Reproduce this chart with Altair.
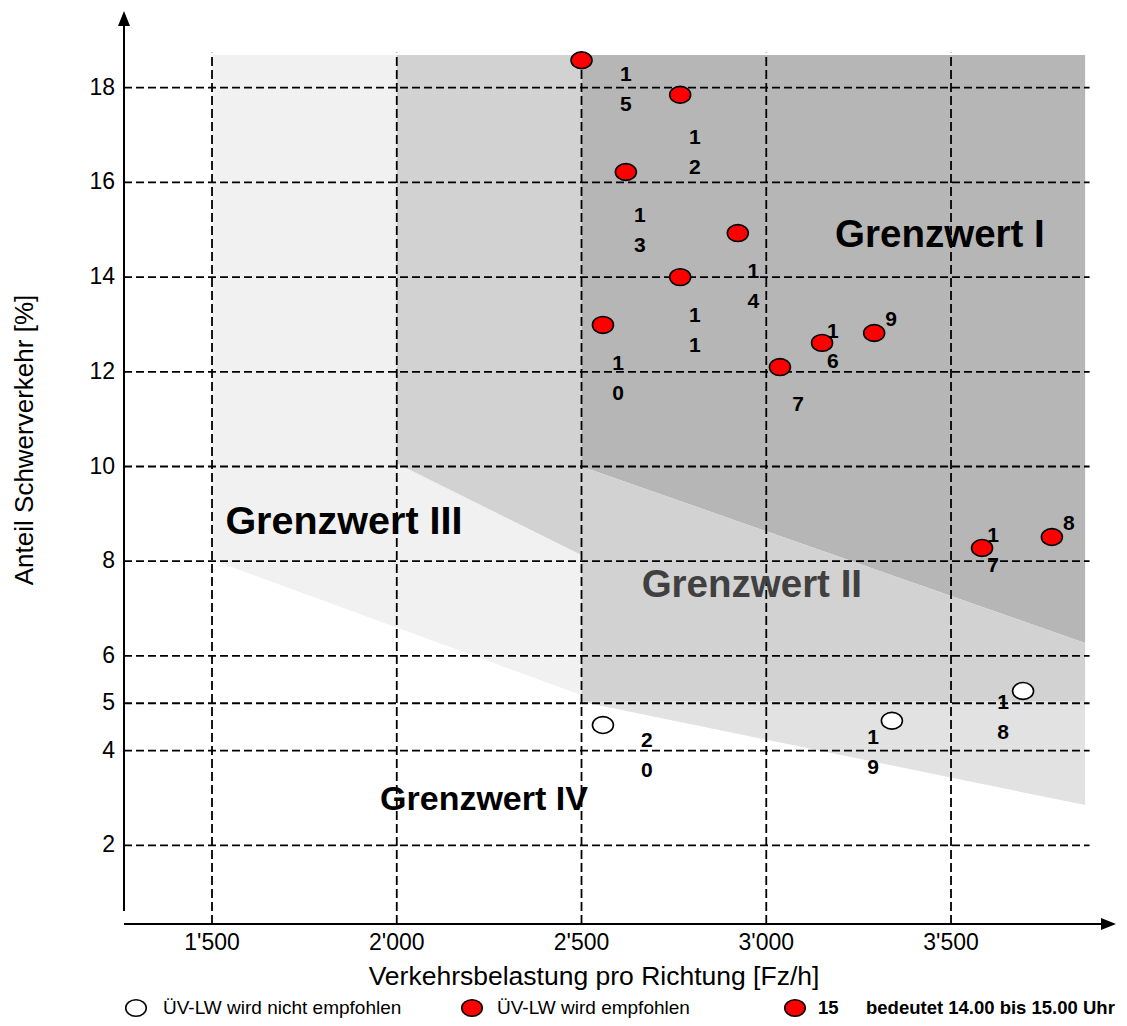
import altair as alt
import pandas as pd

# ---------------- data ----------------
x_ticks = [1500, 2000, 2500, 3000, 3500]
y_ticks = [2, 4, 5, 6, 8, 10, 12, 14, 16, 18]

# hours where the bypass (ÜV-LW) is recommended (red)
red_x = [2500, 2767, 2620, 2923, 2767, 2558, 3037, 3151, 3292, 3584, 3773]
red_y = [18.58, 17.85, 16.22, 14.93, 14.00, 12.99, 12.10, 12.61, 12.82, 8.28, 8.51]
red_hour = ["15", "12", "13", "14", "11", "10", "7", "16", "9", "17", "8"]
red_lab_x = [2620, 2807, 2658, 2965, 2807, 2599, 3086, 3180, 3338, 3614, 3819]
red_lab_y = [18.27, 16.94, 15.29, 14.11, 13.18, 12.16, 11.30, 12.84, 13.09, 8.53, 8.79]

# hours where it is not recommended (white)
white_x = [2558, 3340, 3695]
white_y = [4.54, 4.63, 5.26]
white_hour = ["20", "19", "18"]
white_lab_x = [2677, 3289, 3641]
white_lab_y = [4.20, 4.27, 5.01]

# limit-value zones: x extent with lower / upper boundary
zone_names = ["III", "II_upper", "I", "II", "II_lower"]
zone_x = [[1500, 2500], [2000, 2500], [2500, 3863], [2500, 3863], [2500, 3863]]
zone_low = [[8.03, 5.17], [10.07, 8.13], [10.0, 6.27], [5.03, 5.03], [5.03, 2.85]]
zone_high = [[18.69, 18.69], [18.69, 18.69], [18.69, 18.69], [10.0, 6.27], [5.03, 5.03]]

gw_text = ["Grenzwert I", "Grenzwert II", "Grenzwert III", "Grenzwert IV"]
gw_x = [3470, 2961, 1857, 2236]
gw_y = [14.89, 7.50, 8.83, 2.96]

grid_x_end = 3875
grid_y_top = 18.74

x_title = "Verkehrsbelastung pro Richtung [Fz/h]"
y_title = "Anteil Schwerverkehr [%]"
legend_labels = ["ÜV-LW wird nicht empfohlen", "ÜV-LW wird empfohlen", "15",
                 "bedeutet 14.00 bis 15.00 Uhr"]

# ---------------- chart ----------------
FONT = "Liberation Sans"
xs = alt.Scale(domain=[1261.8, 3946.5], nice=False, zero=False)
ys = alt.Scale(domain=[0.338, 19.62], nice=False, zero=False)

ELLIPSE = ("M -1 0 C -1 -0.44 -0.552 -0.8 0 -0.8 C 0.552 -0.8 1 -0.44 1 0 "
           "C 1 0.44 0.552 0.8 0 0.8 C -0.552 0.8 -1 0.44 -1 0 Z")

one = pd.DataFrame({"a": [0]})

zone_fill = {"III": "#f1f1f1", "II_upper": "#d2d2d2", "I": "#b6b6b6",
             "II": "#d2d2d2", "II_lower": "#e2e2e2"}

layers = []
for name, zx, zl, zh in zip(zone_names, zone_x, zone_low, zone_high):
    df = pd.DataFrame({"x": zx, "lo": zl, "hi": zh})
    layers.append(
        alt.Chart(df).mark_area(color=zone_fill[name], opacity=1, interpolate="linear").encode(
            x=alt.X("x:Q", scale=xs, axis=None),
            y=alt.Y("lo:Q", scale=ys, axis=None),
            y2="hi:Q",
        )
    )

# horizontal grid lines
hgrid = pd.DataFrame({"y": y_ticks, "x0": [xs.domain[0]] * len(y_ticks),
                      "x1": [grid_x_end] * len(y_ticks)})
layers.append(
    alt.Chart(hgrid).mark_rule(color="black", strokeWidth=1.8, strokeDash=[8, 4]).encode(
        y=alt.Y("y:Q", scale=ys, axis=None),
        x=alt.X("x0:Q", scale=xs, axis=None),
        x2="x1:Q",
    )
)
# vertical grid lines
vgrid = pd.DataFrame({"x": x_ticks, "y0": [ys.domain[0]] * len(x_ticks),
                      "y1": [grid_y_top] * len(x_ticks)})
layers.append(
    alt.Chart(vgrid).mark_rule(color="black", strokeWidth=1.8, strokeDash=[9, 4]).encode(
        x=alt.X("x:Q", scale=xs, axis=None),
        y=alt.Y("y0:Q", scale=ys, axis=None),
        y2="y1:Q",
    )
)

# tick labels (through the scales)
layers.append(
    alt.Chart(pd.DataFrame({"y": y_ticks})).transform_calculate(
        t="format(datum.y, 'd')"
    ).mark_text(font=FONT, fontSize=23, color="black", align="right", baseline="middle").encode(
        y=alt.Y("y:Q", scale=ys, axis=None), x=alt.value(-9), text="t:N")
)
layers.append(
    alt.Chart(pd.DataFrame({"x": x_ticks})).transform_calculate(
        t="replace(format(datum.x, ','), ',', \"'\")"
    ).mark_text(font=FONT, fontSize=23, color="black", align="center",
                baseline="alphabetic").encode(
        x=alt.X("x:Q", scale=xs, axis=None), y=alt.value(939), text="t:N")
)
# axis titles
layers.append(alt.Chart(one).mark_text(font=FONT, fontSize=26.5, color="black", align="center",
                                       baseline="alphabetic", text=x_title).encode(
    x=alt.value(470), y=alt.value(974)))
layers.append(alt.Chart(one).mark_text(font=FONT, fontSize=26, color="black", align="center",
                                       baseline="middle", angle=270, text=y_title).encode(
    x=alt.value(-99), y=alt.value(429)))

# axis lines with arrow heads
layers.append(alt.Chart(one).mark_rule(color="black", strokeWidth=2).encode(
    x=alt.value(0), y=alt.value(6), y2=alt.value(900)))
layers.append(alt.Chart(one).mark_rule(color="black", strokeWidth=2).encode(
    y=alt.value(913), x=alt.value(0), x2=alt.value(985)))
layers.append(alt.Chart(one).mark_point(shape="M 0 -1 L 0.8 1 L -0.8 1 Z", size=225,
                                         filled=True, color="black", opacity=1).encode(
    x=alt.value(0), y=alt.value(7.5)))
layers.append(alt.Chart(one).mark_point(shape="M 1 0 L -1 -0.8 L -1 0.8 Z", size=225,
                                         filled=True, color="black", opacity=1).encode(
    x=alt.value(984.5), y=alt.value(913)))

# zone labels
gw_size = [38.5, 38.5, 39.5, 34]
gw_color = ["black", "#404040", "black", "black"]
for t, gx, gy, s, c in zip(gw_text, gw_x, gw_y, gw_size, gw_color):
    df = pd.DataFrame({"x": [gx], "y": [gy], "t": [t]})
    layers.append(alt.Chart(df).mark_text(font=FONT, fontWeight="bold", fontSize=s, color=c,
                                          align="center", baseline="middle").encode(
        x=alt.X("x:Q", scale=xs, axis=None), y=alt.Y("y:Q", scale=ys, axis=None), text="t:N"))

# points
def pts(xv, yv, fill):
    df = pd.DataFrame({"x": xv, "y": yv})
    return alt.Chart(df).mark_point(shape=ELLIPSE, size=441, filled=True, fill=fill,
                                    stroke="black", strokeWidth=1.6, opacity=1,
                                    fillOpacity=1, strokeOpacity=1).encode(
        x=alt.X("x:Q", scale=xs, axis=None), y=alt.Y("y:Q", scale=ys, axis=None))

layers.append(pts(red_x, red_y, "#ff0000"))
layers.append(pts(white_x, white_y, "white"))

# hour labels (digits stacked vertically; y is the first digit)
lab = pd.DataFrame({
    "x": red_lab_x + white_lab_x,
    "y": red_lab_y + white_lab_y,
    "t": ["\n".join(list(h)) for h in red_hour + white_hour],
})
layers.append(alt.Chart(lab).mark_text(font=FONT, fontWeight="bold", fontSize=21, color="black",
                                       lineBreak="\n", lineHeight=30, align="center",
                                       baseline="middle").encode(
    x=alt.X("x:Q", scale=xs, axis=None), y=alt.Y("y:Q", scale=ys, axis=None), text="t:N"))

# legend below the plot
def leg_symbol(px, py, fill):
    return alt.Chart(one).mark_point(shape=ELLIPSE, size=420, filled=True, fill=fill,
                                     stroke="black", strokeWidth=1.6, opacity=1).encode(
        x=alt.value(px), y=alt.value(py))

def leg_text(px, py, txt, weight, size):
    return alt.Chart(one).mark_text(font=FONT, fontSize=size, fontWeight=weight, color="black",
                                    align="left", baseline="middle", text=txt).encode(
        x=alt.value(px), y=alt.value(py))

LY = 997
layers += [
    leg_symbol(12, LY, "white"), leg_text(39, LY, legend_labels[0], "normal", 19),
    leg_symbol(348, LY, "#ff0000"), leg_text(373, LY, legend_labels[1], "normal", 19),
    leg_symbol(671, LY, "#ff0000"), leg_text(694, LY, legend_labels[2], "bold", 18.5),
    leg_text(742, LY, legend_labels[3], "bold", 18.5),
]

chart = alt.layer(*layers).properties(
    width=992, height=913,
    padding={"left": 116, "top": 3, "right": 3, "bottom": 94},
    autosize=alt.AutoSizeParams(type="none"),
    background="white",
).configure_view(stroke=None)

chart.save("out.html", embed_options={"renderer": "svg", "actions": False})
